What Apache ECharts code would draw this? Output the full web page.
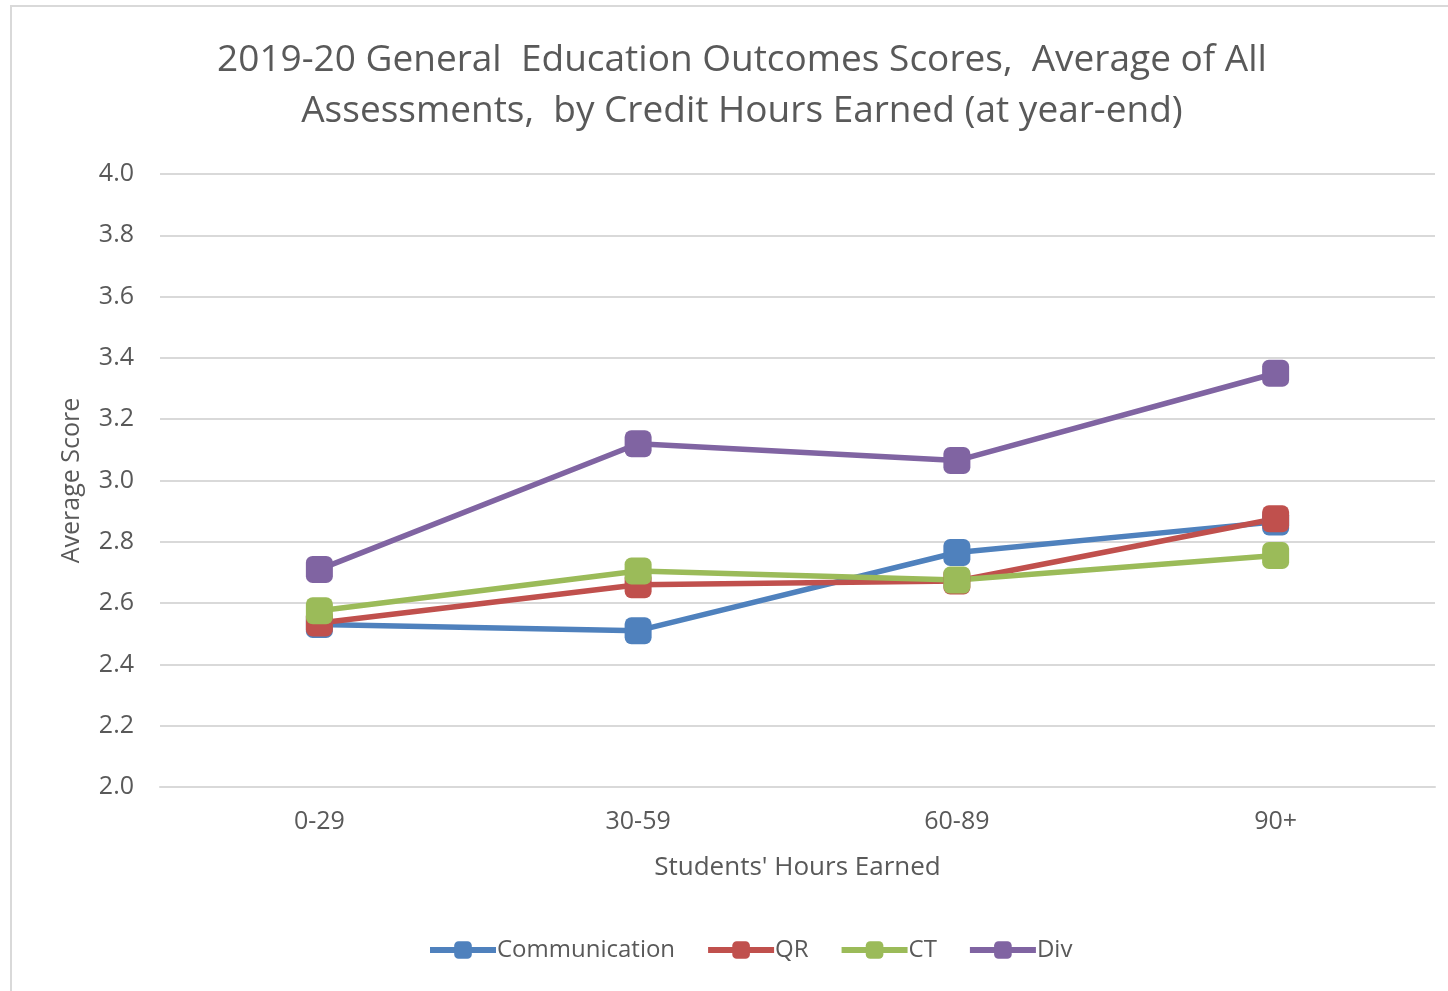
<!DOCTYPE html>
<html><head><meta charset="utf-8">
<script src="https://cdn.jsdelivr.net/npm/echarts@6/dist/echarts.min.js"></script>
<style>html,body{margin:0;padding:0;background:#fff}#c{width:1448px;height:991px}</style>
</head><body><div id="c"></div>
<script>
const categories = ['0-29', '30-59', '60-89', '90+'];
const communication = [2.53, 2.51, 2.765, 2.865];
const qr = [2.535, 2.66, 2.672, 2.875];
const ct = [2.575, 2.705, 2.675, 2.755];
const div = [2.71, 3.12, 3.065, 3.35];
const yTicks = { min: 2.0, max: 4.0, interval: 0.2 };
const titleText = '2019-20 General  Education Outcomes Scores,  Average of All\nAssessments,  by Credit Hours Earned (at year-end)';

const colors = ['#4F81BD', '#C0504D', '#9BBB59', '#8064A2'];
const font = 'Open Sans';
function mk(name, data, color) {
  return {
    name, type: 'line', data,
    symbol: 'roundRect', symbolSize: 27,
    lineStyle: { width: 5.5, color },
    itemStyle: { color },
    emphasis: { disabled: true }
  };
}
const chart = echarts.init(document.getElementById('c'));
chart.setOption({
  animation: false,
  textStyle: { fontFamily: font },
  graphic: [{ type: 'rect', shape: { x: 11, y: 6, width: 1460, height: 1000 }, style: { fill: 'none', stroke: '#d9d9d9', lineWidth: 2 }, silent: true }],
  title: {
    text: titleText, left: 737, textAlign: 'center', top: 30,
    textStyle: { fontFamily: font, fontSize: 37, fontWeight: 'normal', color: '#595959', lineHeight: 51 }
  },
  grid: { left: 160, right: 13, top: 174, bottom: 204 },
  legend: {
    bottom: 24, left: 422,
    itemWidth: 66, itemHeight: 22, itemGap: 30,
    lineStyle: { width: 6 },
    textStyle: { fontFamily: font, fontSize: 24, color: '#595959', padding: [0, 0, 0, -4] },
    data: ['Communication', 'QR', 'CT', 'Div']
  },
  xAxis: {
    type: 'category', data: categories, boundaryGap: true,
    name: "Students' Hours Earned", nameLocation: 'middle', nameGap: 68,
    nameTextStyle: { fontFamily: font, fontSize: 26, color: '#595959' },
    axisLine: { lineStyle: { color: '#d9d9d9', width: 2 } },
    axisTick: { show: false },
    axisLabel: { fontFamily: font, fontSize: 25, color: '#595959', margin: 22 },
  },
  yAxis: {
    type: 'value', min: yTicks.min, max: yTicks.max, interval: yTicks.interval,
    name: 'Average Score', nameLocation: 'middle', nameGap: 76, nameRotate: 90,
    nameTextStyle: { fontFamily: font, fontSize: 25, color: '#595959' },
    axisLine: { show: false }, axisTick: { show: false },
    axisLabel: { fontFamily: font, fontSize: 25, color: '#595959', margin: 26, formatter: v => v.toFixed(1) },
    splitLine: { lineStyle: { color: '#d9d9d9', width: 2 } }
  },
  series: [
    mk('Communication', communication, colors[0]),
    mk('QR', qr, colors[1]),
    mk('CT', ct, colors[2]),
    mk('Div', div, colors[3])
  ]
});
</script></body></html>
